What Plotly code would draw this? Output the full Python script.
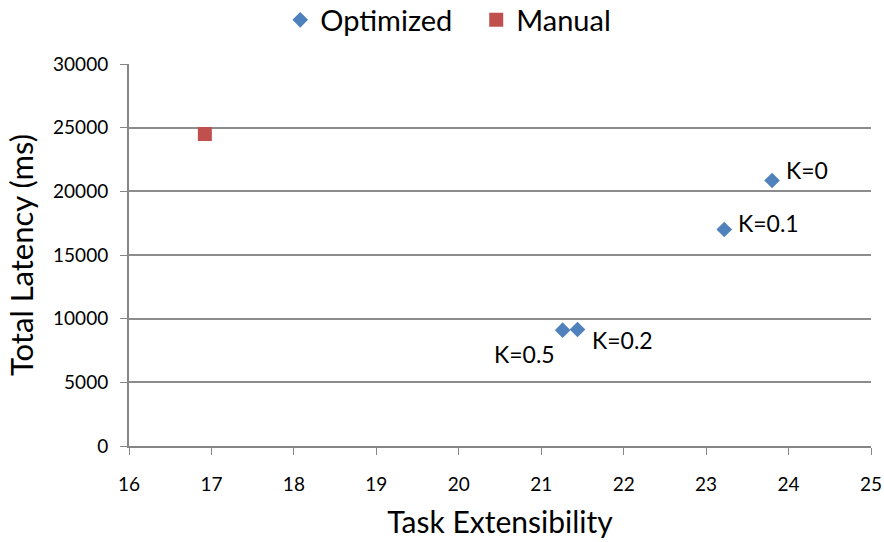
import plotly.graph_objects as go

opt_x = [23.8, 23.22, 21.44, 21.26]
opt_y = [20850, 17000, 9150, 9100]
opt_labels = ["K=0", "K=0.1", "K=0.2", "K=0.5"]
man_x = [16.92]
man_y = [24500]

x_ticks = list(range(16, 26))
y_ticks = list(range(0, 30001, 5000))
y_ticktext = [str(v) for v in y_ticks]

# label offsets (px) for each optimized point
lab_anchor = ["left", "left", "left", "right"]
lab_dx = [12, 12, 12, -6]
lab_dy = [11, 7, -11, -24]

FONT = "Lato"
fig = go.Figure()
fig.add_trace(go.Scatter(
    x=opt_x, y=opt_y, mode="markers", name="Optimized",
    marker=dict(symbol="diamond", size=12, color="#4F81BD"),
))
fig.add_trace(go.Scatter(
    x=man_x, y=man_y, mode="markers", name="Manual",
    marker=dict(symbol="square", size=14, color="#C0504D"),
))
for xv, yv, t, a, dx, dy in zip(opt_x, opt_y, opt_labels, lab_anchor, lab_dx, lab_dy):
    fig.add_annotation(x=xv, y=yv, text=t, showarrow=False, xanchor=a, yanchor="middle",
                       xshift=dx, yshift=dy, font=dict(size=23, color="#000000", family=FONT))
fig.update_layout(
    width=884, height=542,
    margin=dict(l=129, r=13, t=64, b=96, autoexpand=False),
    paper_bgcolor="white", plot_bgcolor="white",
    font=dict(family=FONT, color="#000000"),
    showlegend=True,
    legend=dict(orientation="h", xref="container", x=0.317, xanchor="left",
                y=(542 - 20) / 542, yanchor="middle", yref="container",
                font=dict(size=29, family=FONT), itemwidth=30, entrywidth=151),
    xaxis=dict(range=[16, 25], tickvals=x_ticks, ticks="outside", ticklen=7,
               tickcolor="#868686", showline=True, linecolor="#868686", linewidth=2,
               showgrid=False, zeroline=False, tickfont=dict(size=19),
               ticklabelstandoff=13,
               title=dict(text="Task Extensibility", font=dict(size=30), standoff=18)),
    yaxis=dict(range=[0, 30000], tickvals=y_ticks, ticktext=y_ticktext, ticks="outside", ticklen=7,
               tickcolor="#868686", showline=True, linecolor="#868686", linewidth=2,
               showgrid=True, gridcolor="#8c8c8c", gridwidth=1.5, zeroline=False,
               tickfont=dict(size=19), ticklabelstandoff=8,
               title=dict(text="Total Latency (ms)", font=dict(size=31), standoff=10)),
)
fig.write_html("out.html")
